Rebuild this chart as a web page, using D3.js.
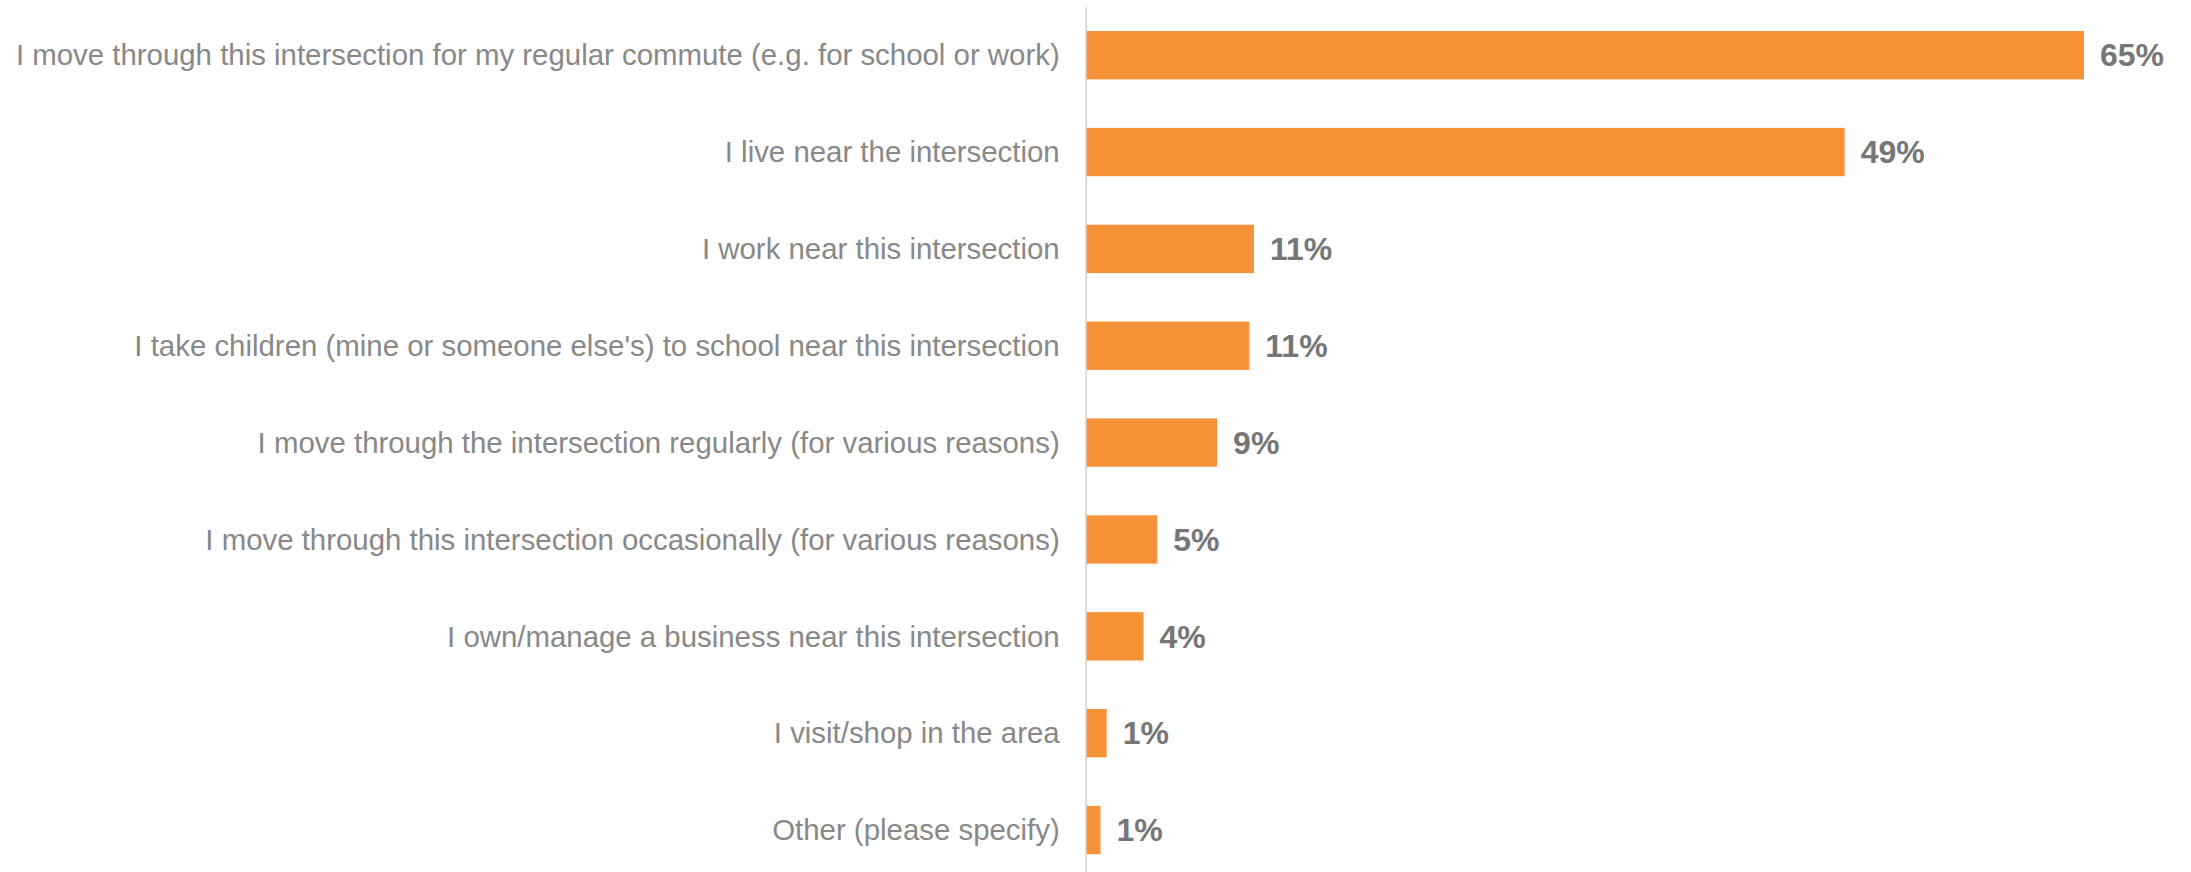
<!DOCTYPE html>
<html>
<head>
<meta charset="utf-8">
<script src="https://cdn.jsdelivr.net/npm/d3@7"></script>
<style>
  body { margin: 0; background: #fff; }
  svg { display: block; font-family: "Liberation Sans", Arial, sans-serif; }
</style>
</head>
<body>
<svg></svg>
<script>
const dims = { width: 2191, height: 872 }

// survey answers, top to bottom
const categories = [
  'I move through this intersection for my regular commute (e.g. for school or work)',
  'I live near the intersection',
  'I work near this intersection',
  "I take children (mine or someone else's) to school near this intersection",
  'I move through the intersection regularly (for various reasons)',
  'I move through this intersection occasionally (for various reasons)',
  'I own/manage a business near this intersection',
  'I visit/shop in the area',
  'Other (please specify)'
]
const values = [65.0, 49.4, 10.9, 10.6, 8.5, 4.6, 3.7, 1.3, 0.9]

const data = categories.map((c, i) => ({ cat: c, val: values[i] }))

const svg = d3.select('svg')
  .attr('width', dims.width)
  .attr('height', dims.height)

const x = d3.scaleLinear()
  .domain([0, 65])
  .range([1086.7, 2084])

const y = d3.scaleBand()
  .domain(categories)
  .range([6.8, 878.4])
  .paddingInner(0.501)
  .paddingOuter(0.25)

// category axis
const axisG = svg.append('g')
  .attr('transform', `translate(${x(0) - 1},0)`)
  .call(d3.axisLeft(y).tickSize(0).tickPadding(26).tickSizeOuter(0))

axisG.select('.domain')
  .attr('stroke', '#d9d9d9')
  .attr('stroke-width', 2)

axisG.selectAll('text')
  .attr('font-size', 29.4)
  .attr('font-family', '"Liberation Sans", Arial, sans-serif')
  .attr('fill', '#888888')
  .attr('dy', '0.35em')

// bars
svg.append('g').selectAll('rect').data(data)
  .enter().append('rect')
    .attr('x', x(0))
    .attr('y', d => y(d.cat))
    .attr('width', d => x(d.val) - x(0))
    .attr('height', y.bandwidth())
    .attr('fill', '#F79239')

// value labels
svg.append('g').selectAll('text').data(data)
  .enter().append('text')
    .attr('x', d => x(d.val) + 16)
    .attr('y', d => y(d.cat) + y.bandwidth() / 2)
    .attr('dy', '0.35em')
    .attr('font-size', 32)
    .attr('font-weight', 'bold')
    .attr('fill', '#767676')
    .text(d => Math.round(d.val) + '%')
</script>
</body>
</html>
